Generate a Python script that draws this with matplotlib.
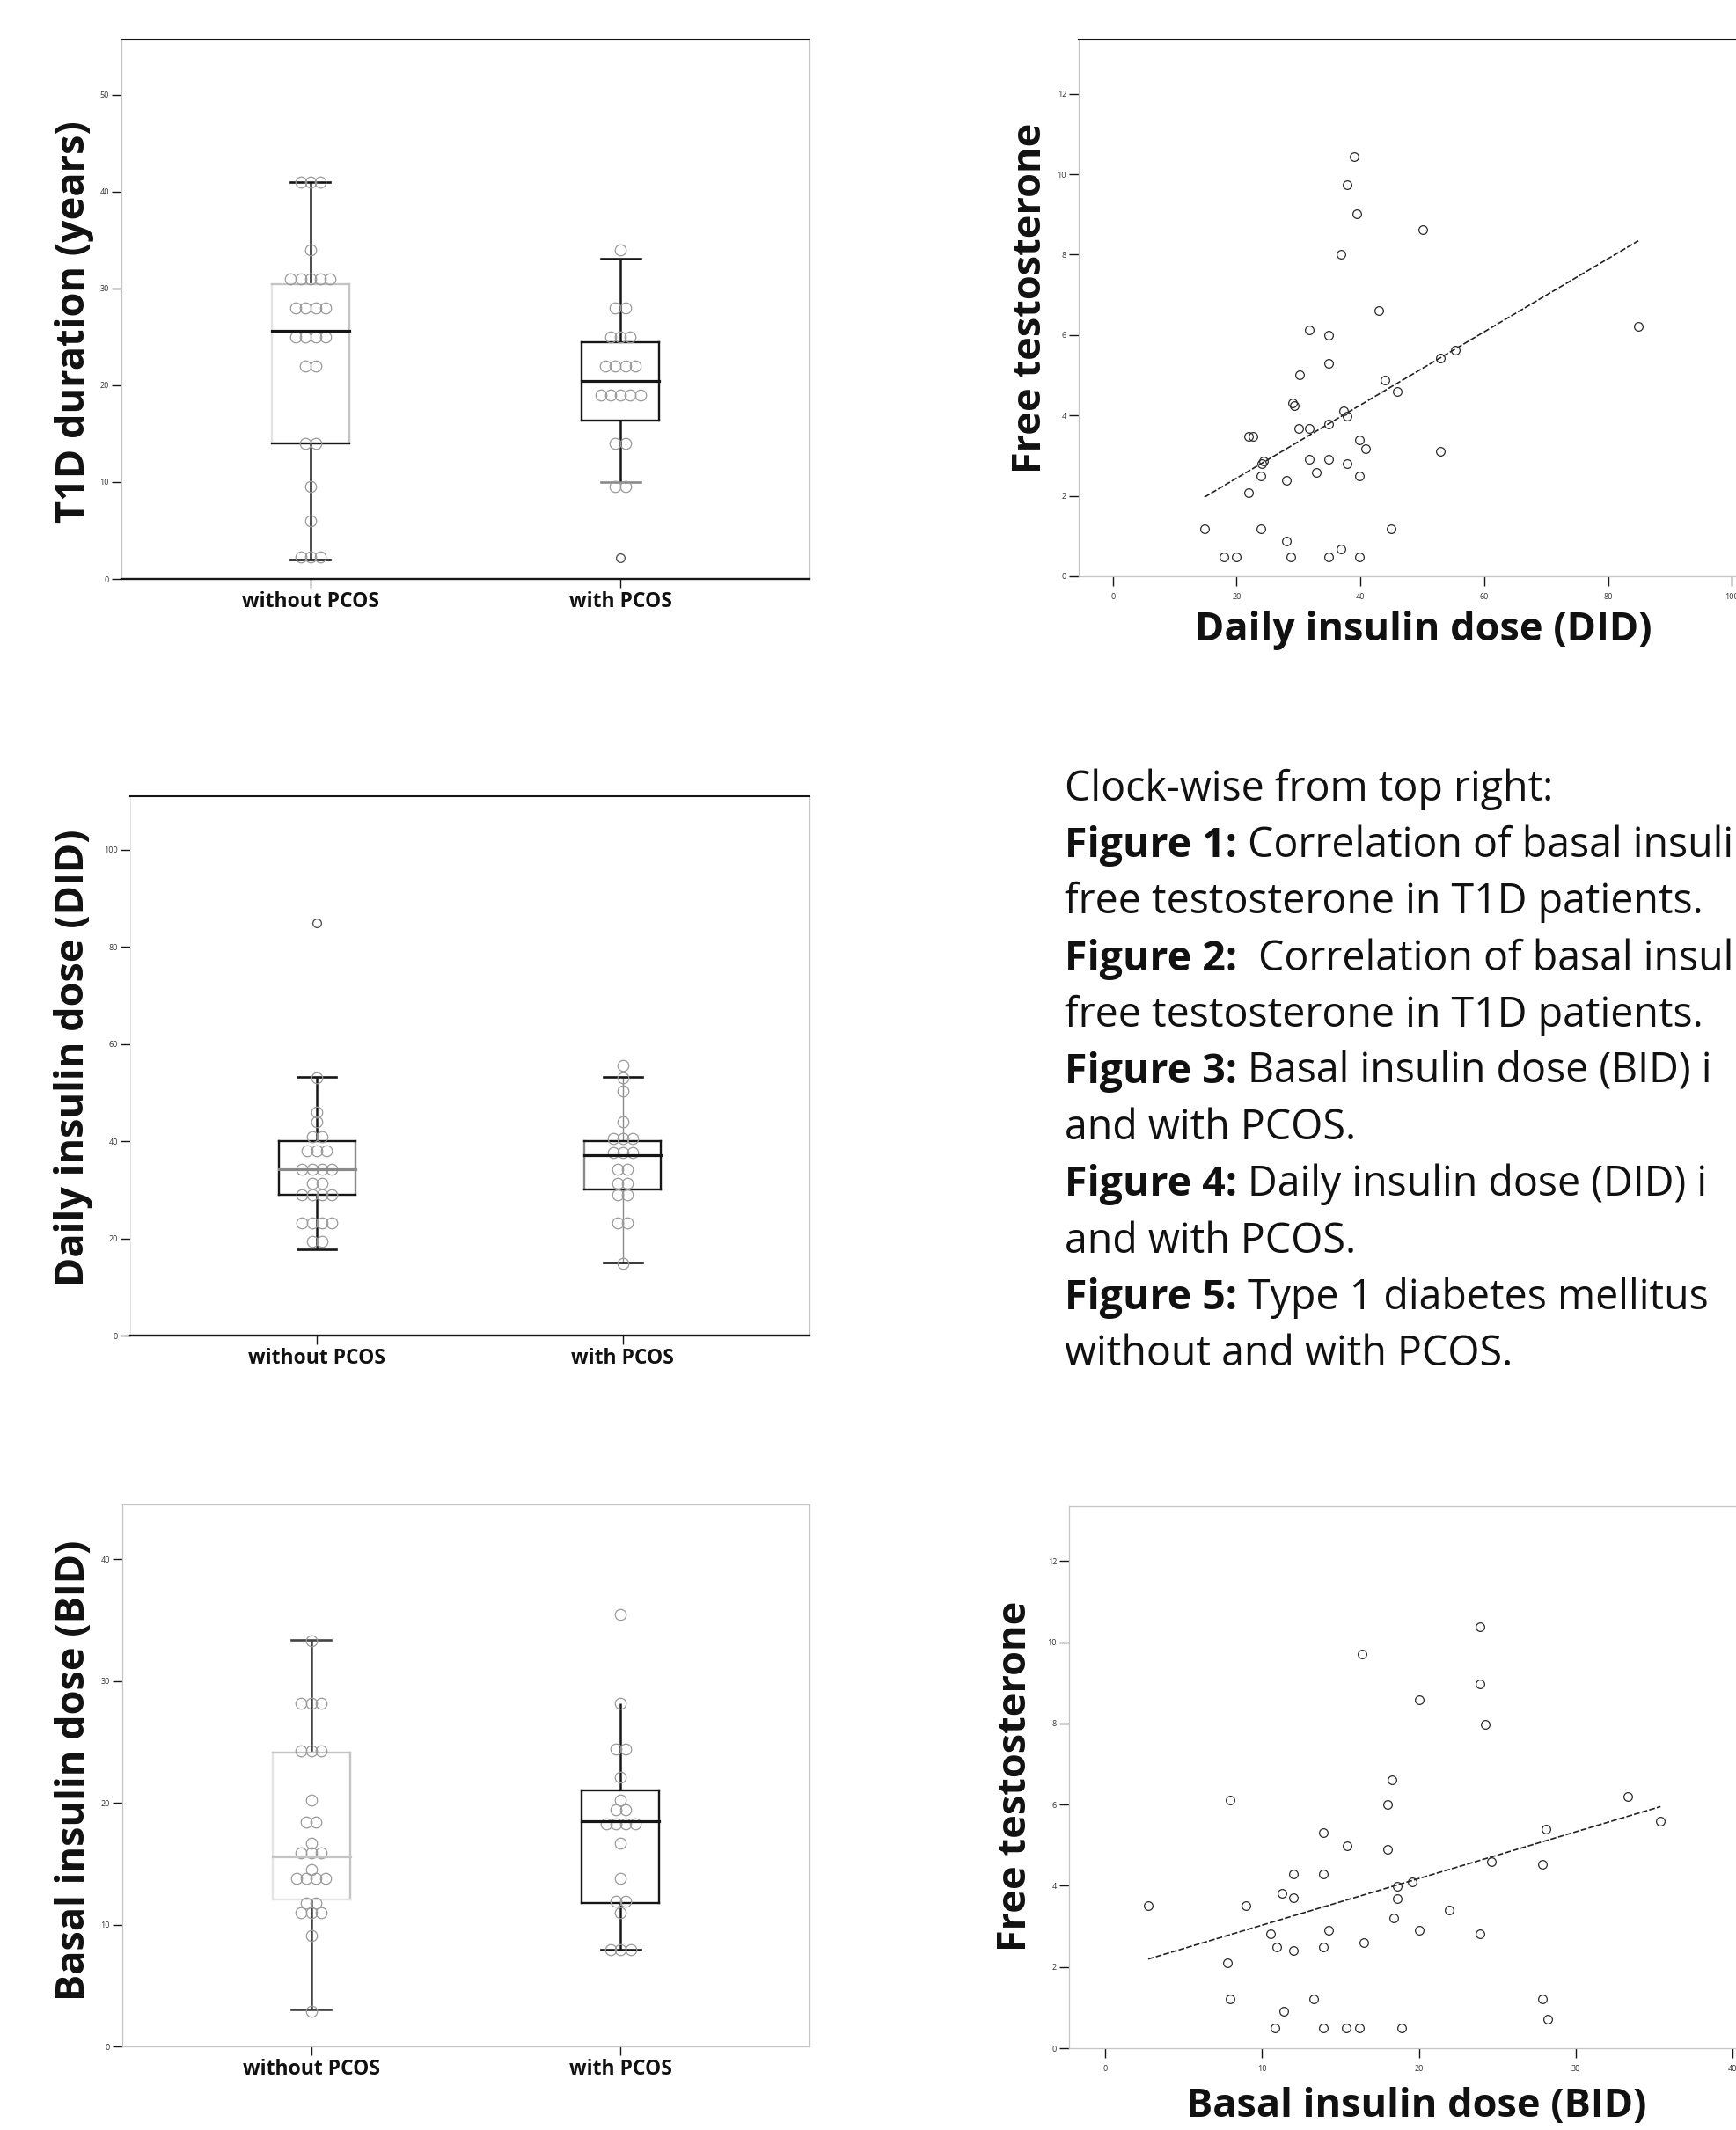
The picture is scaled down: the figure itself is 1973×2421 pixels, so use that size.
"""
Recreate the PCOS / T1D figure page: three SPSS-style box plots with dot
overlays (left column), two scatter plots with fit lines (right column) and
the caption block.
"""

import matplotlib

matplotlib.use("Agg")
import matplotlib.pyplot as plt
import numpy as np

W, H = 1974, 2421
DPI = 100

GROUPS = ["without PCOS", "with PCOS"]

# --- Figure 5: T1D duration (years) ---
T1D_WITHOUT = [41, 41, 41, 34, 31, 31, 31, 31, 31, 28, 28, 28, 28, 25, 25, 25, 25,
               22, 22, 14, 14, 9.5, 6, 2.3, 2.3, 2.3]
T1D_WITH = [34, 28, 28, 25, 25, 25, 22, 22, 22, 22, 19, 19, 19, 19, 19, 14, 14, 9.5, 9.5]
T1D_OUTLIERS = [[], [2.2]]
T1D_BOX = [
    dict(whislo=2.0, q1=14.0, med=25.6, q3=30.4, whishi=41.0),
    dict(whislo=10.0, q1=16.4, med=20.45, q3=24.4, whishi=33.1),
]
T1D_TICKS = [0, 10, 20, 30, 40, 50]

# --- Figure 4: daily insulin dose (DID) ---
DID_WITHOUT = [53, 46, 44, 41, 41, 38, 38, 38, 34.2, 34.2, 34.2, 34.2, 31.3, 31.3,
               28.9, 28.9, 28.9, 28.9, 23.2, 23.2, 23.2, 23.2, 19.3, 19.3]
DID_WITH = [55.6, 53, 50.4, 44, 40.5, 40.5, 40.5, 37.7, 37.7, 37.7, 34.2, 34.2,
            31.3, 31.3, 28.9, 28.9, 23.2, 23.2, 14.9]
DID_OUTLIERS = [[85], []]
DID_BOX = [
    dict(whislo=17.8, q1=28.9, med=34.2, q3=40.0, whishi=53.2),
    dict(whislo=15.1, q1=30.1, med=37.2, q3=40.0, whishi=53.2),
]
DID_TICKS = [0, 20, 40, 60, 80, 100]

# --- Figure 3: basal insulin dose (BID) ---
BID_WITHOUT = [33.3, 28.2, 28.2, 28.2, 24.3, 24.3, 24.3, 20.2, 18.4, 18.4, 16.7,
               15.9, 15.9, 15.9, 14.5, 13.8, 13.8, 13.8, 13.8, 11.8, 11.8,
               11.0, 11.0, 11.0, 9.1, 2.9]
BID_WITH = [35.5, 28.2, 24.4, 24.4, 22.1, 20.2, 19.4, 19.4, 18.3, 18.3, 18.3, 18.3,
            16.7, 13.8, 11.9, 11.9, 11.0, 7.95, 7.95, 7.95]
BID_OUTLIERS = [[], []]
BID_BOX = [
    dict(whislo=3.0, q1=12.1, med=15.6, q3=24.1, whishi=33.4),
    dict(whislo=7.95, q1=11.8, med=18.5, q3=21.05, whishi=28.2),
]
BID_TICKS = [0, 10, 20, 30, 40]

# --- Figure 1: DID vs free testosterone ---
SC_DID_X = [39.0, 37.8, 39.4, 50.1, 36.9, 43.0, 84.9, 31.7, 34.9, 34.9, 30.2, 55.4,
            52.9, 44.0, 45.9, 29.0, 29.3, 37.3, 37.8, 34.9, 30.0, 31.7, 22.0, 22.6,
            39.8, 40.9, 52.9, 31.7, 34.9, 37.8, 24.0, 24.4, 32.9, 39.9, 23.9, 28.1,
            22.0, 14.8, 23.9, 45.0, 28.1, 36.9, 17.9, 20.0, 28.7, 34.9, 39.9]
SC_DID_FT = [10.43, 9.73, 9.02, 8.63, 8.01, 6.60, 6.21, 6.13, 6.0, 5.30, 5.02, 5.62,
             5.42, 4.89, 4.59, 4.31, 4.25, 4.11, 3.99, 3.78, 3.68, 3.68, 3.48, 3.48,
             3.40, 3.18, 3.10, 2.90, 2.90, 2.80, 2.80, 2.86, 2.59, 2.49, 2.49, 2.39,
             2.09, 1.18, 1.18, 1.18, 0.88, 0.68, 0.49, 0.49, 0.49, 0.49, 0.49]
SC_DID_FIT = (0.62, 0.091)  # intercept, slope as drawn
SC_DID_XTICKS = [0, 20, 40, 60, 80, 100]

# --- Figure 2: BID vs free testosterone ---
SC_BID_X = [2.75, 7.95, 7.8, 7.95, 8.96, 10.55, 10.95, 11.25, 12.0, 12.0, 12.0, 10.8,
            11.4, 13.3, 13.9, 13.9, 13.9, 14.25, 13.9, 15.4, 15.35, 16.2, 16.4, 16.5,
            18.0, 18.3, 18.0, 18.6, 18.6, 18.4, 18.9, 19.6, 20.0, 20.0, 21.9, 23.9,
            23.9, 24.25, 24.6, 23.9, 28.1, 27.9, 27.9, 28.2, 33.3, 35.4]
SC_BID_FT = [3.51, 6.11, 2.10, 1.21, 3.51, 2.82, 2.50, 3.81, 3.71, 4.29, 2.40, 0.50,
             0.91, 1.21, 5.30, 4.29, 2.50, 2.90, 0.50, 4.99, 0.50, 0.50, 9.71, 2.60,
             6.0, 6.60, 4.90, 3.99, 3.69, 3.21, 0.50, 4.09, 8.58, 2.90, 3.41, 10.38,
             8.98, 7.97, 4.60, 2.82, 5.39, 4.54, 1.21, 0.71, 6.20, 5.59]
SC_BID_FIT = (1.88, 0.115)
SC_BID_XTICKS = [0, 10, 20, 30, 40]
FT_TICKS = [0, 2, 4, 6, 8, 10, 12]

# caption as visible on the page (right side runs off the page)
CAPTION = [
    ("", "Clock-wise from top right:"),
    ("Figure 1:", " Correlation of basal insuli"),
    ("", "free testosterone in T1D patients."),
    ("Figure 2:", "  Correlation of basal insul"),
    ("", "free testosterone in T1D patients."),
    ("Figure 3:", " Basal insulin dose (BID) i"),
    ("", "and with PCOS."),
    ("Figure 4:", " Daily insulin dose (DID) i"),
    ("", "and with PCOS."),
    ("Figure 5:", " Type 1 diabetes mellitus"),
    ("", "without and with PCOS."),
]

# colours / sizes
K = "#161616"
MID = "#8a8a8a"
LIGHT = "#c4c4c4"
FAINT = "#e4e4e4"
DOT = "#9a9a9a"
FONT = "Open Sans"
LABEL_SIZE = 32.5
CAPTION_SIZE = 33.5
GROUP_SIZE = 16.5
BOX_HALF = 0.125
CAP_HALF = 0.064
DOT_STEP = 0.032

plt.rcParams["font.family"] = [FONT, "DejaVu Sans"]


def px_axes(fig, left, top, right, bottom):
    """Add axes given pixel edges measured from the top-left corner."""
    return fig.add_axes([left / W, 1 - bottom / H, (right - left) / W, (bottom - top) / H])


def style_frame(ax, top, right, left, bottom):
    """Each arg is (colour, linewidth) or None to hide that spine."""
    for name, spec in (("top", top), ("right", right), ("left", left), ("bottom", bottom)):
        sp = ax.spines[name]
        if spec is None:
            sp.set_visible(False)
        else:
            sp.set_color(spec[0])
            sp.set_linewidth(spec[1])


def small_ticks(ax):
    ax.tick_params(axis="both", which="both", direction="out", length=8, width=1.0,
                   color=K, labelsize=6.5, labelcolor="#333333", pad=2)


def draw_box(ax, pos, st, style):
    """SPSS-like box with individually coloured edges."""
    x0, x1 = pos - BOX_HALF, pos + BOX_HALF
    lw = 1.7
    wlw = style.get("whisker_lw", 1.8)
    ax.plot([pos, pos], [st["q3"], st["whishi"]], color=style["whisker"], lw=wlw,
            zorder=2, solid_capstyle="butt")
    ax.plot([pos, pos], [st["whislo"], st["q1"]], color=style["whisker"], lw=wlw,
            zorder=2, solid_capstyle="butt")
    if style["cap_hi"]:
        ax.plot([pos - CAP_HALF, pos + CAP_HALF], [st["whishi"]] * 2,
                color=style["cap_hi"], lw=1.9, zorder=2)
    if style["cap_lo"]:
        ax.plot([pos - CAP_HALF, pos + CAP_HALF], [st["whislo"]] * 2,
                color=style["cap_lo"], lw=1.9, zorder=2)
    ax.plot([x0, x0], [st["q1"], st["q3"]], color=style["left"], lw=lw, zorder=2)
    ax.plot([x1, x1], [st["q1"], st["q3"]], color=style["right"], lw=lw, zorder=2)
    ax.plot([x0, x1], [st["q3"]] * 2, color=style["top"], lw=lw, zorder=2)
    ax.plot([x0, x1], [st["q1"]] * 2, color=style["bottom"], lw=lw, zorder=2)
    ax.plot([x0, x1], [st["med"]] * 2, color=style["median"], lw=2.3, zorder=4)


def draw_dots(ax, pos, values):
    vals, counts = np.unique(np.asarray(values, dtype=float), return_counts=True)
    for v, n in zip(vals, counts):
        xs = pos + (np.arange(n) - (n - 1) / 2) * DOT_STEP
        ax.plot(xs, [v] * n, "o", ms=9, mfc="none", mec=DOT, mew=0.9, zorder=3)


def box_panel(ax, groups_vals, outliers, stats, styles, ticks, ylim):
    positions = [1, 2]
    for pos, st, sty in zip(positions, stats, styles):
        draw_box(ax, pos, st, sty)
    for pos, vals in zip(positions, groups_vals):
        draw_dots(ax, pos, vals)
    for pos, outs in zip(positions, outliers):
        if outs:
            ax.plot([pos] * len(outs), outs, "o", ms=7, mfc="none", mec="#555555",
                    mew=1.0, zorder=3)
    ax.set_xlim(0.39, 2.61)
    ax.set_ylim(*ylim)
    ax.set_yticks(ticks)
    ax.set_xticks(positions)
    ax.set_xticklabels(GROUPS, fontweight="bold", fontsize=GROUP_SIZE, color="#111111")
    small_ticks(ax)
    ax.tick_params(axis="x", length=7, labelsize=GROUP_SIZE, labelcolor="#111111", pad=3)
    ax.set_facecolor("white")


def scatter_panel(ax, xs, ys, fit, xticks, xlim):
    ax.plot(xs, ys, "o", ms=7, mfc="none", mec="#2a2a2a", mew=0.9, zorder=3)
    b0, b1 = fit
    xl = np.array([min(xs), max(xs)])
    ax.plot(xl, b0 + b1 * xl, color="#222222", lw=1.2, ls=(0, (4, 1.4)), zorder=2)
    ax.set_xlim(*xlim)
    ax.set_ylim(0, 13.35)
    ax.set_xticks(xticks)
    ax.set_yticks(FT_TICKS)
    small_ticks(ax)
    ax.tick_params(axis="x", pad=6)


def fig_label(fig, x, y, text, rotation=0, va="center"):
    fig.text(x / W, 1 - y / H, text, rotation=rotation, ha="center", va=va,
             fontsize=LABEL_SIZE, fontweight="bold", color="#111111")


def draw_caption(fig):
    x0, y0, step = 1210, 910, 64.2
    renderer = fig.canvas.get_renderer()
    space_px = CAPTION_SIZE * DPI / 72 * 0.26
    for i, (bold, rest) in enumerate(CAPTION):
        y = 1 - (y0 + i * step) / H
        x = x0 / W
        if bold:
            t = fig.text(x, y, bold, fontsize=CAPTION_SIZE, fontweight="bold",
                         va="baseline", color="#111111")
            ext = t.get_window_extent(renderer)
            lead = len(rest) - len(rest.lstrip(" "))
            x = (ext.x1 + lead * space_px) / W
            rest = rest.lstrip(" ")
        fig.text(x, y, rest, fontsize=CAPTION_SIZE, va="baseline", color="#111111")


def main() -> None:
    fig = plt.figure(figsize=(W / DPI, H / DPI), dpi=DPI)
    fig.patch.set_facecolor("white")

    heavy = (K, 1.5)
    grey = (LIGHT, 0.9)

    # Figure 5 (top left)
    ax1 = px_axes(fig, 138, 45, 920, 658)
    box_panel(
        ax1, [T1D_WITHOUT, T1D_WITH], T1D_OUTLIERS, T1D_BOX,
        [dict(left=FAINT, right=LIGHT, top=LIGHT, bottom=K, median=K, whisker=K,
              cap_hi=K, cap_lo=K),
         dict(left=K, right=K, top=K, bottom=K, median=K, whisker=K, cap_hi=K,
              cap_lo=MID)],
        T1D_TICKS, (0, 55.7),
    )
    style_frame(ax1, heavy, grey, grey, (K, 1.7))

    # Figure 4 (middle left)
    ax3 = px_axes(fig, 148, 905, 920, 1518)
    box_panel(
        ax3, [DID_WITHOUT, DID_WITH], DID_OUTLIERS, DID_BOX,
        [dict(left=K, right=MID, top=K, bottom=K, median=MID, whisker=K, cap_hi=K,
              cap_lo=K),
         dict(left=MID, right=K, top=K, bottom=K, median=K, whisker=MID,
              whisker_lw=1.0, cap_hi=K, cap_lo=K)],
        DID_TICKS, (0, 111),
    )
    style_frame(ax3, heavy, grey, (FAINT, 0.8), (K, 1.7))

    # Figure 3 (bottom left)
    ax5 = px_axes(fig, 139, 1710, 920, 2326)
    box_panel(
        ax5, [BID_WITHOUT, BID_WITH], BID_OUTLIERS, BID_BOX,
        [dict(left=FAINT, right=LIGHT, top=LIGHT, bottom=FAINT, median=LIGHT,
              whisker="#444444", cap_hi="#444444", cap_lo="#444444"),
         dict(left=K, right=K, top=K, bottom=K, median=K, whisker=K, cap_hi=None,
              cap_lo=K)],
        BID_TICKS, (0, 44.5),
    )
    style_frame(ax5, grey, grey, grey, grey)

    # Figure 1 (top right)
    ax2 = px_axes(fig, 1226, 45, 2007, 655)
    scatter_panel(ax2, SC_DID_X, SC_DID_FT, SC_DID_FIT, SC_DID_XTICKS, (-5.5, 105.5))
    style_frame(ax2, heavy, None, grey, grey)

    # Figure 2 (bottom right)
    ax6 = px_axes(fig, 1215, 1712, 1996, 2328)
    scatter_panel(ax6, SC_BID_X, SC_BID_FT, SC_BID_FIT, SC_BID_XTICKS, (-2.3, 41.5))
    style_frame(ax6, grey, None, grey, grey)

    # axis titles
    fig_label(fig, 85, 366, "T1D duration (years)", rotation=90)
    fig_label(fig, 84, 1202, "Daily insulin dose (DID)", rotation=90)
    fig_label(fig, 85, 2012, "Basal insulin dose (BID)", rotation=90)
    fig_label(fig, 1172, 339, "Free testosterone", rotation=90)
    fig_label(fig, 1155, 2019, "Free testosterone", rotation=90)
    fig_label(fig, 1618, 728, "Daily insulin dose (DID)", va="baseline")
    fig_label(fig, 1610, 2406, "Basal insulin dose (BID)", va="baseline")

    draw_caption(fig)

    fig.savefig("out.png", dpi=DPI, facecolor="white")
    plt.close(fig)


if __name__ == "__main__":
    main()
